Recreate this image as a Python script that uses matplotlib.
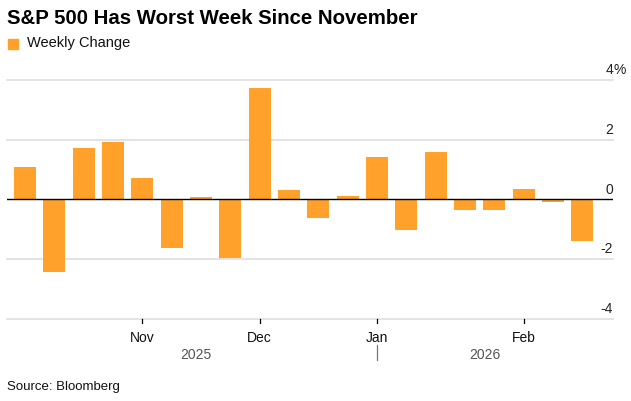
import matplotlib
matplotlib.use("Agg")
import matplotlib.pyplot as plt
from matplotlib.patches import Rectangle

plt.rcParams['font.family'] = ['Liberation Sans', 'DejaVu Sans']

# Data
weeks = list(range(20))
values = [1.08, -2.43, 1.71, 1.92, 0.71, -1.62, 0.08, -1.95, 3.73, 0.31,
          -0.62, 0.11, 1.41, -1.03, 1.59, -0.37, -0.35, 0.36, -0.09, -1.39]
month_ticks = [4, 8, 12, 17]
month_labels = ["Nov", "Dec", "Jan", "Feb"]
year_labels = ["2025", "2026"]
y_ticks = [4, 2, 0, -2, -4]
y_tick_labels = ["4%", "2", "0", "-2", "-4"]

W, H = 631, 401
fig = plt.figure(figsize=(W / 100, H / 100), dpi=100)
ax = fig.add_axes([7 / W, 1 - 318.7 / H, (613 - 7) / W, (318.7 - 80) / H])

orange = '#FFA12B'
ax.bar(weeks, values, width=0.75, color=orange, zorder=3)

ax.set_xlim(-0.613, 20.04)
ax.set_ylim(-4, 4)

for y in y_ticks:
    if y == 0:
        ax.axhline(0, color='black', lw=1.0, zorder=4)
    else:
        ax.axhline(y, color='#e1e1e1', lw=1.3, zorder=1, clip_on=False)

for s in ax.spines.values():
    s.set_visible(False)
ax.set_yticks([])
ax.set_xticks([])

# y labels: right aligned at gridline end, above gridlines
for y, lab in zip(y_ticks, y_tick_labels):
    num = lab.rstrip('%')
    ax.annotate(num, xy=(1, y), xycoords=('axes fraction', 'data'),
                xytext=(0, 2), textcoords='offset points',
                ha='right', va='bottom', fontsize=10, color='#222222')
    if lab.endswith('%'):
        ax.annotate('%', xy=(1, y), xycoords=('axes fraction', 'data'),
                    xytext=(0, 2), textcoords='offset points',
                    ha='left', va='bottom', fontsize=10, color='#222222')

# month ticks
for t, lab in zip(month_ticks, month_labels):
    ax.plot([t, t], [0, -0.018], transform=ax.get_xaxis_transform(),
            color='black', lw=0.9, clip_on=False)
    ax.annotate(lab, xy=(t, 0), xycoords=('data', 'axes fraction'),
                xytext=(0, -8.5), textcoords='offset points',
                ha='center', va='top', fontsize=10, color='#111111')

# year labels
x_left = -0.375
x_right = 19.375
jan = month_ticks[2]
ax.annotate(year_labels[0], xy=((x_left + jan) / 2, 0), xycoords=('data', 'axes fraction'),
            xytext=(0, -21), textcoords='offset points',
            ha='center', va='top', fontsize=10, color='#555555')
ax.annotate(year_labels[1], xy=((jan + x_right) / 2, 0), xycoords=('data', 'axes fraction'),
            xytext=(0, -21), textcoords='offset points',
            ha='center', va='top', fontsize=10, color='#555555')
ax.plot([jan, jan], [-0.11, -0.172], transform=ax.get_xaxis_transform(),
        color='#777777', lw=0.9, clip_on=False)

# title, legend, source
fig.text(7 / W, 1 - 18 / H, "S&P 500 Has Worst Week Since November",
         fontsize=14.7, fontweight='bold', ha='left', va='center', color='black')
fig.patches.append(Rectangle((8 / W, 1 - 49 / H), 10 / W, 10 / H,
                             transform=fig.transFigure, color=orange))
fig.text(27 / W, 1 - 43.5 / H, "Weekly Change", fontsize=10.5,
         ha='left', va='center', color='#111111')
fig.text(7 / W, 1 - 387 / H, "Source: Bloomberg", fontsize=9.5,
         ha='left', va='center', color='#111111')

fig.savefig("out.png", dpi=100)
